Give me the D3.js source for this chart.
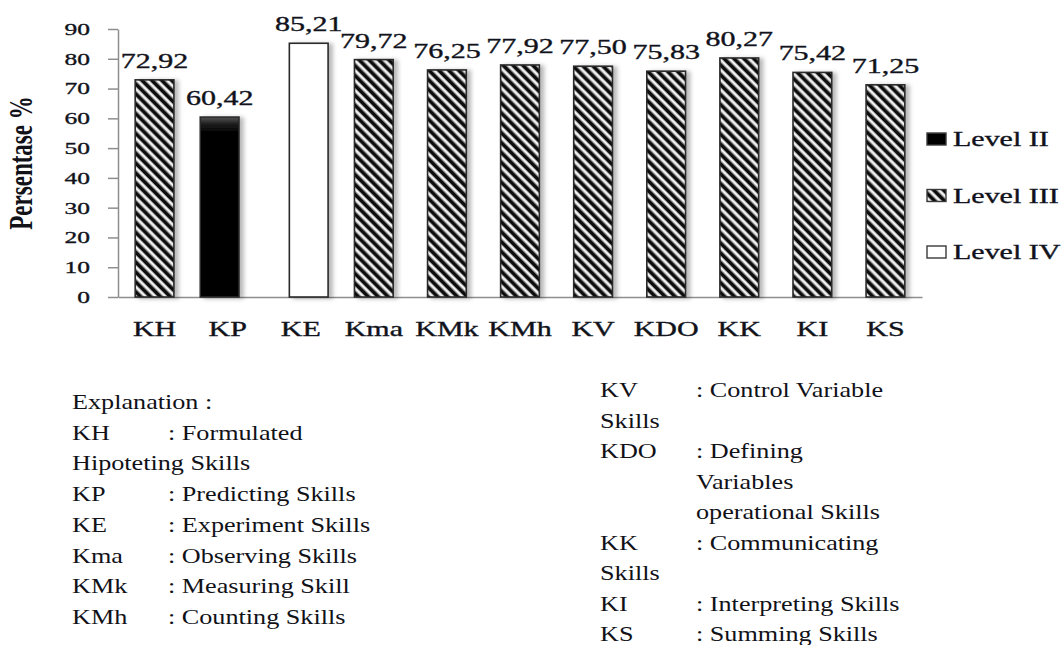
<!DOCTYPE html>
<html>
<head>
<meta charset="utf-8">
<script src="https://cdn.jsdelivr.net/npm/d3@7/dist/d3.min.js"></script>
<style>
  html, body { margin: 0; padding: 0; background: #ffffff; }
  svg { display: block; }
  text { font-family: "Liberation Serif", "Times New Roman", serif; fill: #111118; }
  .heavy { stroke: #141826; stroke-width: 0.35px; }
</style>
</head>
<body>
<svg id="chart" width="1063" height="645"></svg>
<script>
// Skill codes, their percentage scores and the level each one belongs to
const categories = ["KH", "KP", "KE", "Kma", "KMk", "KMh", "KV", "KDO", "KK", "KI", "KS"];
const scores = [72.92, 60.42, 85.21, 79.72, 76.25, 77.92, 77.50, 75.83, 80.27, 75.42, 71.25];
const levels = ["Level III", "Level II", "Level IV", "Level III", "Level III", "Level III",
                "Level III", "Level III", "Level III", "Level III", "Level III"];
const levelNames = ["Level II", "Level III", "Level IV"];
const yTicks = [0, 10, 20, 30, 40, 50, 60, 70, 80, 90];
const yTitle = "Persentase %";

// Explanation of the codes, laid out in two columns: [code column, description column]
const notesLeft = [
  ["Explanation :", ""],
  ["KH", ": Formulated"],
  ["Hipoteting Skills", ""],
  ["KP", ": Predicting Skills"],
  ["KE", ": Experiment Skills"],
  ["Kma", ": Observing Skills"],
  ["KMk", ": Measuring Skill"],
  ["KMh", ": Counting Skills"]
];
const notesRight = [
  ["KV", ": Control Variable"],
  ["Skills", ""],
  ["KDO", ": Defining"],
  ["", "Variables"],
  ["", "operational Skills"],
  ["KK", ": Communicating"],
  ["Skills", ""],
  ["KI", ": Interpreting Skills"],
  ["KS", ": Summing Skills"]
];

const svg = d3.select("#chart");
const SX = 1.5;          // horizontal stretch of the chart lettering
const plot = { left: 118, right: 922, top: 29, bottom: 297 };

const x = d3.scaleBand().domain(categories)
  .range([plot.left, plot.right]).paddingInner(0.47).paddingOuter(0.235);
const y = d3.scaleLinear().domain([0, 90]).range([plot.bottom, plot.top]);
const levelOffset = { "Level II": -8, "Level III": 0, "Level IV": 8 };

// ---- patterns, gradients, shadow
const defs = svg.append("defs");
const hatch = defs.append("pattern").attr("id", "hatch")
  .attr("patternUnits", "userSpaceOnUse").attr("width", 7).attr("height", 7)
  .attr("patternTransform", "rotate(-45)");
hatch.append("rect").attr("width", 7).attr("height", 7).attr("fill", "#ffffff");
hatch.append("rect").attr("x", 0).attr("width", 3.6).attr("height", 7).attr("fill", "#0a0a0a");
hatch.append("rect").attr("x", 3.6).attr("width", 0.7).attr("height", 7).attr("fill", "#888");
hatch.append("rect").attr("x", 6.3).attr("width", 0.7).attr("height", 7).attr("fill", "#888");

const dark = defs.append("linearGradient").attr("id", "darkBar")
  .attr("x1", 0).attr("y1", 0).attr("x2", 0).attr("y2", 1);
dark.append("stop").attr("offset", "0%").attr("stop-color", "#555");
dark.append("stop").attr("offset", "4%").attr("stop-color", "#1c1c1c");
dark.append("stop").attr("offset", "9%").attr("stop-color", "#000");
dark.append("stop").attr("offset", "100%").attr("stop-color", "#000");

const shadow = defs.append("filter").attr("id", "shadow")
  .attr("x", "-20%").attr("y", "-10%").attr("width", "160%").attr("height", "130%");
shadow.append("feDropShadow").attr("dx", 4).attr("dy", 1).attr("stdDeviation", 2)
  .attr("flood-color", "#000").attr("flood-opacity", 0.28);

const fillFor = lv => lv === "Level II" ? "url(#darkBar)" : lv === "Level III" ? "url(#hatch)" : "#ffffff";

// ---- axes
const yAxis = svg.append("g").attr("transform", `translate(${plot.left},0)`)
  .call(d3.axisLeft(y).tickValues(yTicks).tickSize(10).tickPadding(8.7).tickSizeOuter(0));
yAxis.selectAll("path.domain, line").attr("stroke", "#8e8e8e").attr("stroke-width", 1.5);
yAxis.selectAll("text").attr("transform", `scale(${SX},1)`).attr("class", "heavy")
  .style("font-size", "17px").style("font-family", "Liberation Serif, serif").attr("fill", "#141826");

const xAxis = svg.append("g").attr("transform", `translate(0,${plot.bottom})`)
  .call(d3.axisBottom(x).tickSize(0).tickPadding(24.8).tickSizeOuter(0));
xAxis.select("path.domain").attr("stroke", "#8e8e8e").attr("stroke-width", 1.5);
xAxis.selectAll("text").attr("transform", `scale(${SX},1)`).attr("class", "heavy")
  .style("font-size", "20px").style("font-family", "Liberation Serif, serif").attr("fill", "#141826");

// ---- y title
svg.append("text")
  .attr("transform", `translate(32,163) scale(${SX},1) rotate(-90)`)
  .attr("text-anchor", "middle")
  .style("font-size", "23px").style("font-weight", "bold")
  .text(yTitle);

// ---- bars
const data = categories.map((c, i) => ({ cat: c, v: scores[i], lv: levels[i] }));
const bw = x.bandwidth();
svg.append("g").selectAll("rect").data(data).join("rect")
  .attr("x", d => x(d.cat) + levelOffset[d.lv])
  .attr("y", d => y(d.v))
  .attr("width", bw)
  .attr("height", d => y(0) - y(d.v))
  .attr("fill", d => fillFor(d.lv))
  .attr("stroke", "#2a2a2a").attr("stroke-width", 1.6)
  .attr("filter", "url(#shadow)");

// ---- value labels
const fmt = v => v.toFixed(2).replace(".", ",");
svg.append("g").selectAll("text").data(data).join("text")
  .attr("transform", d => `translate(${x(d.cat) + levelOffset[d.lv] + bw / 2},${y(d.v) - 12}) scale(${SX},1)`)
  .attr("text-anchor", "middle").attr("class", "heavy")
  .style("font-size", "20px").attr("fill", "#141826")
  .text(d => fmt(d.v));

// ---- legend
const legY = d3.scalePoint().domain(levelNames).range([139, 252]);
const leg = svg.append("g").selectAll("g").data(levelNames).join("g")
  .attr("transform", d => `translate(927,${legY(d)})`);
leg.append("rect").attr("x", 0).attr("y", -6).attr("width", 19).attr("height", 12)
  .attr("fill", d => fillFor(d)).attr("stroke", "#3a3a3a").attr("stroke-width", 1.4);
leg.append("text").attr("transform", `translate(26,7) scale(${SX},1)`).attr("class", "heavy")
  .style("font-size", "20px").attr("fill", "#141826").text(d => d);

// ---- explanation block
const NS = 1.19;
function notes(rows, codeX, descX, y0, step) {
  const g = svg.append("g");
  rows.forEach((r, i) => {
    const yy = y0 + i * step;
    if (r[0]) g.append("text").attr("transform", `translate(${codeX},${yy}) scale(${NS},1)`)
      .style("font-size", "22px").attr("fill", "#000").text(r[0]);
    if (r[1]) g.append("text").attr("transform", `translate(${descX},${yy}) scale(${NS},1)`)
      .style("font-size", "22px").attr("fill", "#000").text(r[1]);
  });
}
notes(notesLeft, 72, 168, 409, 30.7);
notes(notesRight, 600, 696, 397, 30.5);
</script>
</body>
</html>
